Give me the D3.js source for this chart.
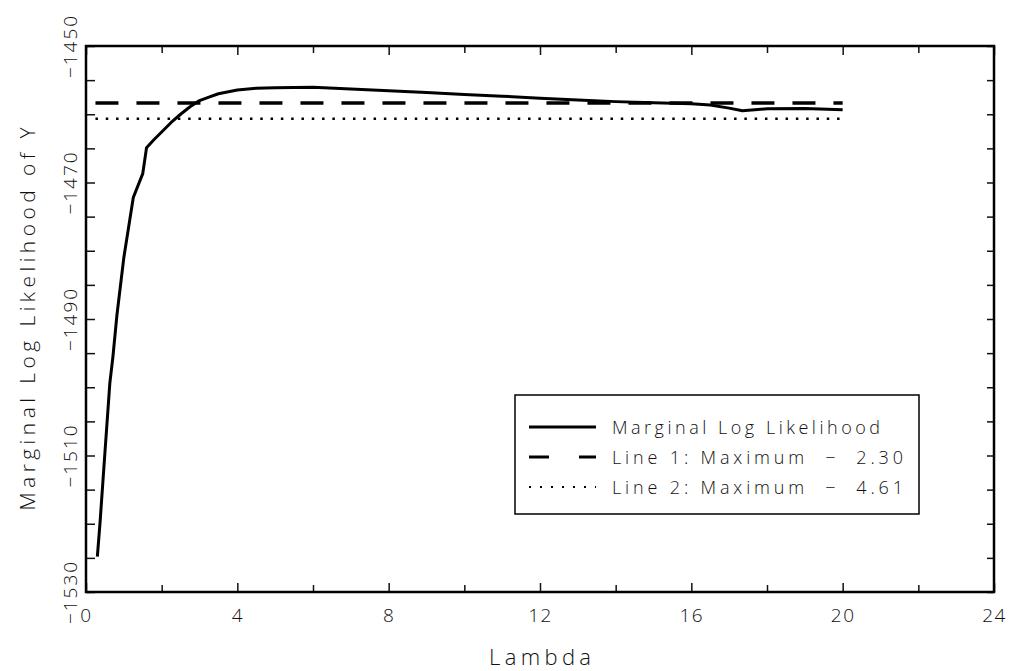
<!DOCTYPE html>
<html>
<head>
<meta charset="utf-8">
<script src="https://cdn.jsdelivr.net/npm/d3@7"></script>
<style>
  html, body { margin: 0; padding: 0; background: #fff; }
  svg { display: block; }
  text { font-family: "Open Sans", "DejaVu Sans", sans-serif; font-weight: 300; fill: #111; }
</style>
</head>
<body>
<svg id="chart" width="1010" height="671"></svg>
<script>
// ---- data ----
const lambda = [0.3, 0.37, 0.5, 0.63, 0.71, 0.82, 1.0, 1.25, 1.5, 1.6, 1.8, 2.0, 2.25, 2.5, 2.75, 3.0, 3.25, 3.5, 4.0, 4.5, 5, 6, 7, 8, 9, 10, 11, 12, 13, 14, 15, 16, 16.5, 17, 17.35, 18, 19, 20];
const logLik = [-1524.8, -1519.9, -1509.6, -1499.4, -1495.6, -1489.3, -1481.0, -1472.2, -1468.7, -1464.9, -1463.7, -1462.6, -1461.2, -1460.0, -1458.9, -1458.0, -1457.5, -1457.0, -1456.45, -1456.2, -1456.1, -1456.05, -1456.3, -1456.55, -1456.8, -1457.1, -1457.35, -1457.65, -1457.9, -1458.15, -1458.3, -1458.45, -1458.65, -1459.1, -1459.5, -1459.2, -1459.15, -1459.35];
const maxLogLik = -1456.05;
const line1Offset = 2.30;
const line2Offset = 4.61;
const refLambda = [0.25, 20];
const xTickValues = [0, 4, 8, 12, 16, 20, 24];
const xMinorTicks = [2, 6, 10, 14, 18, 22];
const yLabelValues = [-1450, -1470, -1490, -1510, -1530];
const yTickValues = d3.range(-1530, -1449, 5);
const legendLabels = ["Marginal Log Likelihood", "Line 1: Maximum  \u2212  2.30", "Line 2: Maximum  \u2212  4.61"];
const xTitle = "Lambda";
const yTitle = "Marginal Log Likelihood of Y";

// ---- layout ----
const L = 86, R = 994, T = 46, B = 592;
const svg = d3.select("#chart");
const x = d3.scaleLinear().domain([0, 24]).range([L, R]);
const y = d3.scaleLinear().domain([-1530, -1450]).range([B, T]);

const fmt = v => (v < 0 ? "\u2212" + Math.abs(v) : String(v));

// ---- axes (inward ticks) ----
const gB = svg.append("g").attr("transform", `translate(0,${B})`)
  .call(d3.axisBottom(x).tickValues(xTickValues).tickSizeInner(-9).tickSizeOuter(0).tickPadding(17).tickFormat(fmt));
gB.selectAll("text").style("font-size", "19px").attr("font-family", null).attr("letter-spacing", "1.5");
svg.append("g").attr("transform", `translate(0,${B})`)
  .call(d3.axisBottom(x).tickValues(xMinorTicks).tickSizeInner(-7).tickSizeOuter(0).tickFormat(""));
svg.append("g").attr("transform", `translate(0,${T})`)
  .call(d3.axisTop(x).tickValues(xTickValues).tickSizeInner(-9).tickSizeOuter(0).tickFormat(""));
svg.append("g").attr("transform", `translate(0,${T})`)
  .call(d3.axisTop(x).tickValues(xMinorTicks).tickSizeInner(-7).tickSizeOuter(0).tickFormat(""));
svg.append("g").attr("transform", `translate(${L},0)`)
  .call(d3.axisLeft(y).tickValues(yTickValues).tickSizeInner(-9).tickSizeOuter(0).tickFormat(""));
svg.append("g").attr("transform", `translate(${R},0)`)
  .call(d3.axisRight(y).tickValues(yTickValues).tickSizeInner(-7).tickSizeOuter(0).tickFormat(""));
svg.selectAll(".domain").remove();
svg.selectAll(".tick line").attr("stroke", "#111").attr("stroke-width", 1.5);

// y tick labels (rotated)
svg.append("g").selectAll("text").data(yLabelValues).join("text")
  .attr("transform", d => `translate(77,${y(d)}) rotate(-90)`)
  .attr("text-anchor", "middle")
  .style("font-size", "19px")
  .attr("letter-spacing", "2")
  .text(fmt);

// frame
svg.append("rect").attr("x", L).attr("y", T).attr("width", R - L).attr("height", B - T)
  .attr("fill", "none").attr("stroke", "#000").attr("stroke-width", 2.5);

// titles
svg.append("text").attr("x", (L + R) / 2).attr("y", 665).attr("text-anchor", "middle")
  .style("font-size", "22px").attr("textLength", 102).attr("lengthAdjust", "spacing").text(xTitle);
svg.append("text").attr("transform", `translate(35,${(T + B) / 2}) rotate(-90)`).attr("text-anchor", "middle")
  .style("font-size", "21px").attr("textLength", 383).attr("lengthAdjust", "spacing").text(yTitle);

// ---- lines ----
const line = d3.line().x(d => x(d[0])).y(d => y(d[1]));
svg.append("path").datum(refLambda.map(l => [l, maxLogLik - line1Offset]))
  .attr("d", line).attr("fill", "none").attr("stroke", "#000").attr("stroke-width", 3.5)
  .attr("stroke-dasharray", "23,18");
svg.append("path").datum(refLambda.map(l => [l, maxLogLik - line2Offset]))
  .attr("d", line).attr("fill", "none").attr("stroke", "#000").attr("stroke-width", 2.5)
  .attr("stroke-dasharray", "2.5,7.8");
svg.append("path").datum(lambda.map((l, i) => [l, logLik[i]]))
  .attr("d", line).attr("fill", "none").attr("stroke", "#000").attr("stroke-width", 3)
  .attr("stroke-linejoin", "round");

// ---- legend ----
const lg = svg.append("g");
lg.append("rect").attr("x", 515).attr("y", 395).attr("width", 404).attr("height", 119)
  .attr("fill", "#fff").attr("stroke", "#000").attr("stroke-width", 1.5);
const rowsY = [427, 457, 487];
const dashes = [null, "20,30", "2,9"];
const widths = [3, 3, 2];
const textLens = [268, 291, 291];
legendLabels.forEach((lab, i) => {
  lg.append("line").attr("x1", 529).attr("x2", 596).attr("y1", rowsY[i]).attr("y2", rowsY[i])
    .attr("stroke", "#000").attr("stroke-width", widths[i]).attr("stroke-dasharray", dashes[i]);
  lg.append("text").attr("x", 612).attr("y", rowsY[i] + 7).style("font-size", "18px")
    .attr("textLength", textLens[i]).attr("lengthAdjust", "spacing")
    .style("white-space", "pre").text(lab);
});
</script>
</body>
</html>
